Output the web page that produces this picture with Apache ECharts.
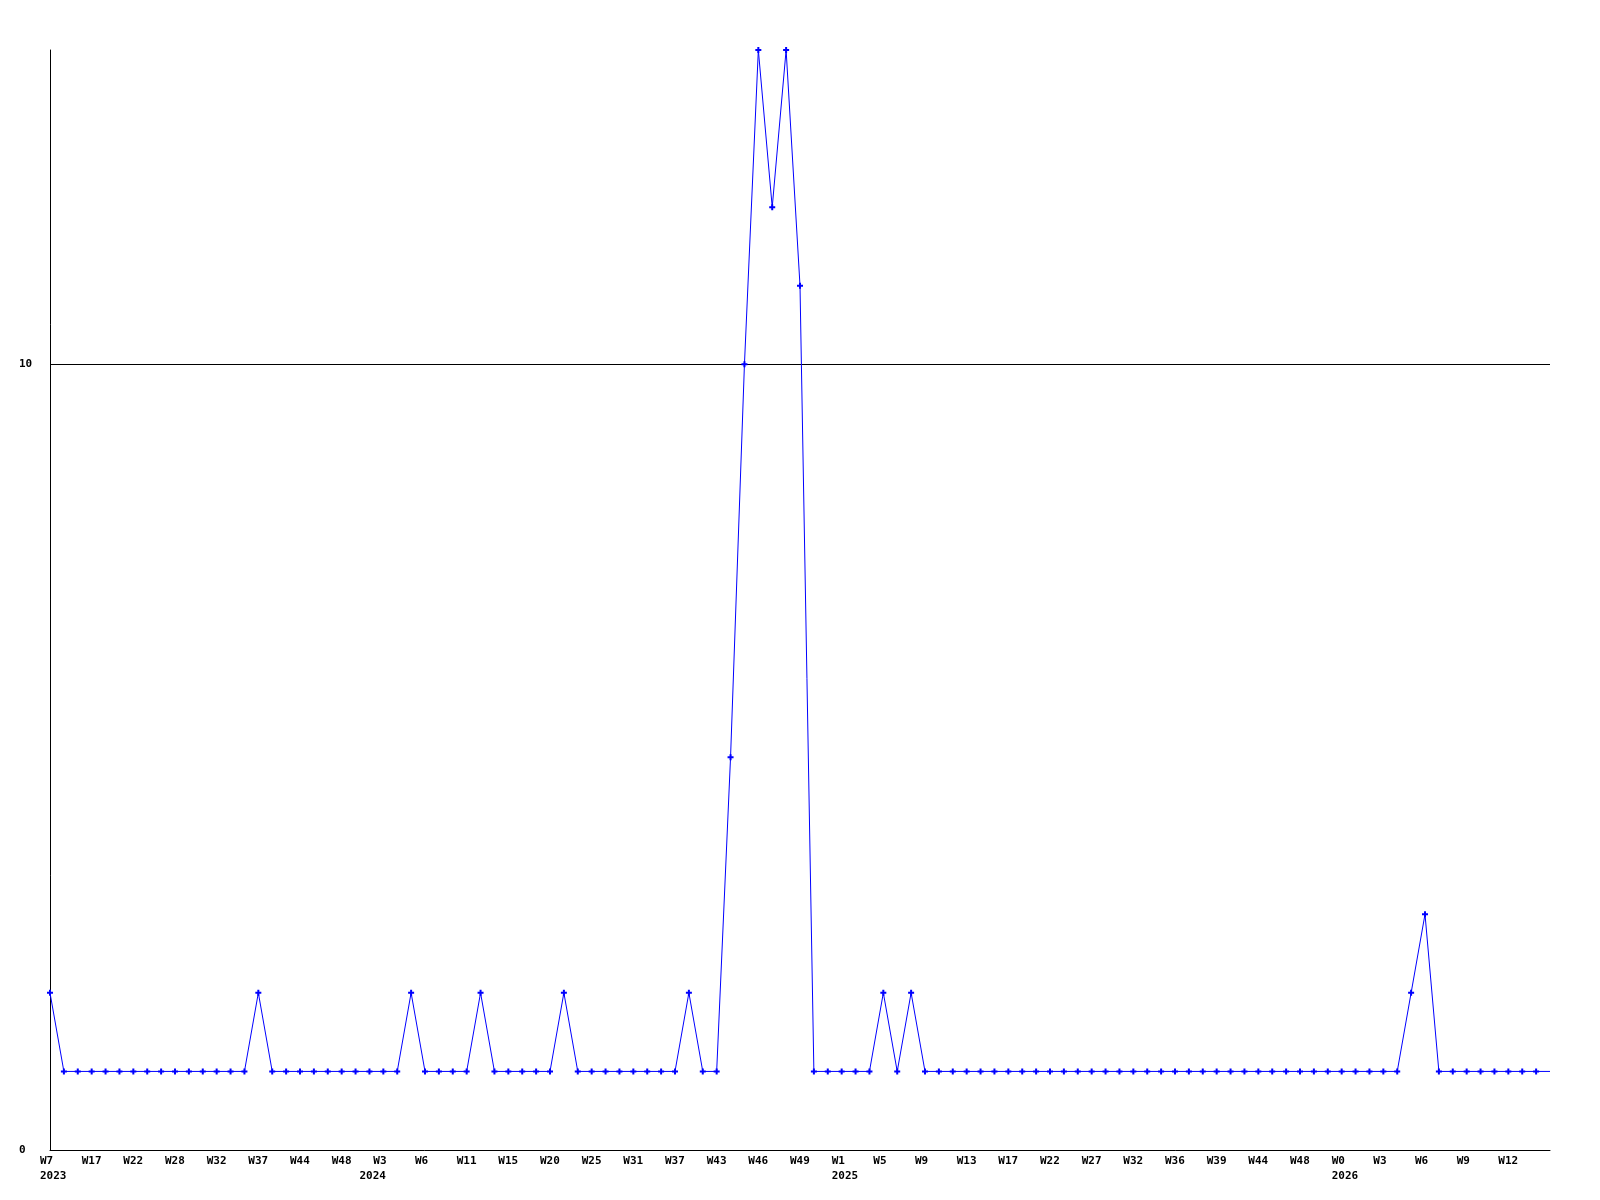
<!DOCTYPE html>
<html>
<head>
<meta charset="utf-8">
<script src="https://cdn.jsdelivr.net/npm/echarts@6/dist/echarts.min.js"></script>
<style>
html,body{margin:0;padding:0;background:#fff;}
#chart{width:1600px;height:1200px;}
</style>
</head>
<body>
<div id="chart"></div>
<script>
// One value per week (109 points)
const values = [
  2,1,1,1,1,1,1,1,1,1,
  1,1,1,1,1,2,1,1,1,1,
  1,1,1,1,1,1,2,1,1,1,
  1,2,1,1,1,1,1,2,1,1,
  1,1,1,1,1,1,2,1,1,5,
  10,14,12,14,11,1,1,1,1,1,
  2,1,2,1,1,1,1,1,1,1,
  1,1,1,1,1,1,1,1,1,1,
  1,1,1,1,1,1,1,1,1,1,
  1,1,1,1,1,1,1,1,2,3,
  1,1,1,1,1,1,1,1,1
];
// Week tick labels, one every third point
const tickWeeks = ['W7','W17','W22','W28','W32','W37','W44','W48','W3','W6','W11','W15','W20','W25','W31','W37','W43','W46','W49','W1','W5','W9','W13','W17','W22','W27','W32','W36','W39','W44','W48','W0','W3','W6','W9','W12'];
// Year labels and the point where each year starts
const yearNames = ['2023','2024','2025','2026'];
const yearStartIndex = [0, 23, 57, 93];
const categories = values.map((v, i) => String(i));
const yMin = 0, yMax = 14, yStep = 10;

const chart = echarts.init(document.getElementById('chart'), null, {renderer: 'canvas'});
const FONT = '"DejaVu Sans Mono", "Liberation Mono", monospace';
const richA = {a: {width: 20, align: 'left', fontFamily: FONT, fontWeight: 'bold', fontSize: 11, color: '#000', lineHeight: 15}};
chart.setOption({
  animation: false,
  backgroundColor: '#fff',
  grid: {left: 50, right: 50, top: 50, bottom: 50, containLabel: false},
  xAxis: [{
    type: 'category',
    data: categories,
    boundaryGap: false,
    axisLine: {show: true, lineStyle: {color: '#000', width: 1}},
    axisTick: {show: false},
    splitLine: {show: false},
    axisLabel: {
      interval: 2,
      margin: 4,
      align: 'center',
      formatter: function (value, index) {
        return '{a|' + (tickWeeks[Math.round(index / 3)] || '') + '}';
      },
      rich: richA
    }
  }, {
    type: 'category',
    data: categories,
    position: 'bottom',
    boundaryGap: false,
    axisLine: {show: false},
    axisTick: {show: false},
    splitLine: {show: false},
    axisLabel: {
      interval: function (index) { return yearStartIndex.indexOf(index) >= 0; },
      margin: 19,
      align: 'center',
      formatter: function (value, index) {
        const k = yearStartIndex.indexOf(index);
        return k >= 0 ? '{a|' + yearNames[k] + '}' : '';
      },
      rich: richA
    }
  }],
  yAxis: {
    type: 'value',
    min: yMin, max: yMax, interval: yStep,
    axisLine: {show: true, lineStyle: {color: '#000', width: 1}},
    axisTick: {show: false},
    splitLine: {show: true, showMinLine: false, showMaxLine: false, lineStyle: {color: '#000', width: 1}},
    axisLabel: {
      showMaxLabel: false,
      align: 'left',
      margin: 31,
      fontFamily: FONT, fontWeight: 'bold', fontSize: 11, color: '#000'
    }
  },
  series: [{
    type: 'line',
    xAxisIndex: 0,
    data: values.map((v, i) => i === values.length - 1 ? {value: v, symbol: 'none'} : v),
    symbol: 'path://M2,0h2v2h2v2h-2v2h-2v-2h-2v-2h2z',
    symbolSize: 6,
    showAllSymbol: true,
    lineStyle: {color: '#0000ff', width: 1},
    itemStyle: {color: '#0000ff'},
    emphasis: {disabled: true}
  }]
});
</script>
</body>
</html>
